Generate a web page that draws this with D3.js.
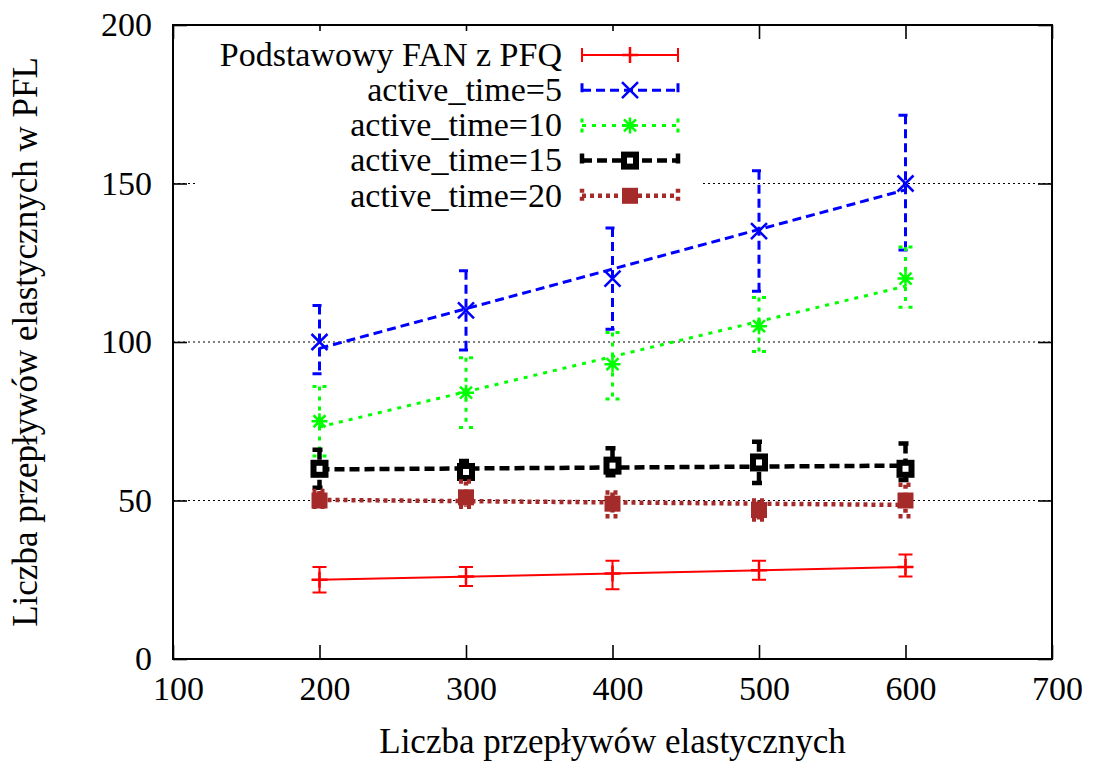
<!DOCTYPE html>
<html>
<head>
<meta charset="utf-8">
<script src="https://cdn.jsdelivr.net/npm/d3@7"></script>
<style>
  body { margin: 0; background: #fff; }
  svg { display: block; }
  text { font-family: "Liberation Serif", "Times New Roman", serif; fill: #000; }
</style>
</head>
<body>
<div id="chart"></div>
<script>
// data
const xValues = [200, 300, 400, 500, 600];
const xTicks = [100, 200, 300, 400, 500, 600, 700];
const yTicks = [0, 50, 100, 150, 200];
const gridValues = [50, 100, 150];

const seriesNames = ["Podstawowy FAN z PFQ", "active_time=5", "active_time=10", "active_time=15", "active_time=20"];

const baseMean = [25, 26, 27, 28, 29];
const baseLow  = [21, 23, 22, 25, 26];
const baseHigh = [29, 29, 31, 31, 33];

const at5Mean = [100, 110, 120, 135, 150];
const at5Low  = [90, 97.5, 104, 116, 129];
const at5High = [111.5, 122.5, 136, 154, 171.5];

const at10Mean = [75, 84, 93, 105, 120];
const at10Low  = [64, 73, 82, 97, 111];
const at10High = [86, 95, 103, 114, 130];

const at15Mean = [60, 59, 61, 62, 60];
const at15Low  = [54, 57, 58, 55.5, 56.5];
const at15High = [66, 62.5, 66.5, 68.5, 68];

const at20Mean = [50, 51, 49, 47, 50];
const at20Low  = [48, 48, 45, 44, 45];
const at20High = [53, 56, 52.5, 50, 55];

const width = 1094, height = 765;
const margin = {top: 25, right: 42, bottom: 106, left: 173};
const serif = '"Liberation Serif", "Times New Roman", serif';

const x = d3.scaleLinear().domain([100, 700]).range([margin.left, width - margin.right]);
const y = d3.scaleLinear().domain([0, 200]).range([height - margin.bottom, margin.top]);

const styles = [
  {color: "#ff0000", width: 2,   dash: null,   marker: "plus"},
  {color: "#0000ff", width: 3,   dash: "9,5",  marker: "cross"},
  {color: "#00ff00", width: 3,   dash: "4,6",  marker: "star"},
  {color: "#000000", width: 4.5, dash: "10,5", marker: "box"},
  {color: "#a52a2a", width: 4.5, dash: "4,4",  marker: "fbox"}
];

const series = [
  [baseMean, baseLow, baseHigh],
  [at5Mean, at5Low, at5High],
  [at10Mean, at10Low, at10High],
  [at15Mean, at15Low, at15High],
  [at20Mean, at20Low, at20High]
].map((s, i) => ({
  name: seriesNames[i],
  style: styles[i],
  points: xValues.map((xv, j) => ({x: xv, y: s[0][j], lo: s[1][j], hi: s[2][j]}))
}));

const svg = d3.select("#chart").append("svg")
  .attr("width", width)
  .attr("height", height);

// grid
svg.append("g")
  .selectAll("line")
  .data(gridValues)
  .join("line")
    .attr("x1", x(100)).attr("x2", x(700))
    .attr("y1", d => y(d)).attr("y2", d => y(d))
    .attr("stroke", "#000")
    .attr("stroke-width", 1.2)
    .attr("stroke-dasharray", "2,3");

// axes, ticks pointing inward
const fontSize = 34;
const titleSize = 35;
const bottomAxis = svg.append("g")
  .attr("transform", `translate(0,${y(0)})`)
  .call(d3.axisBottom(x).tickValues(xTicks).tickSizeInner(-14).tickSizeOuter(0).tickPadding(17));
bottomAxis.selectAll("text").attr("dx", 5);

svg.append("g")
  .attr("transform", `translate(0,${y(200)})`)
  .call(d3.axisTop(x).tickValues(xTicks).tickSizeInner(-14).tickSizeOuter(0).tickFormat(""));

svg.append("g")
  .attr("transform", `translate(${x(100)},0)`)
  .call(d3.axisLeft(y).tickValues(yTicks).tickSizeInner(-14).tickSizeOuter(0).tickPadding(21));

svg.append("g")
  .attr("transform", `translate(${x(700)},0)`)
  .call(d3.axisRight(y).tickValues(yTicks).tickSizeInner(-14).tickSizeOuter(0).tickFormat(""));

svg.selectAll(".domain").remove();
svg.selectAll(".tick line").attr("stroke", "#000").attr("stroke-width", 1.6);
svg.selectAll(".tick text")
  .style("font-family", serif)
  .style("font-size", fontSize + "px")
  .attr("fill", "#000");

// frame
svg.append("rect")
  .attr("x", x(100)).attr("y", y(200))
  .attr("width", x(700) - x(100)).attr("height", y(0) - y(200))
  .attr("fill", "none")
  .attr("stroke", "#000")
  .attr("stroke-width", 2);

// axis titles
svg.append("text")
  .attr("x", (x(100) + x(700)) / 2)
  .attr("y", 753)
  .attr("text-anchor", "middle")
  .style("font-family", serif)
  .style("font-size", titleSize + "px")
  .text("Liczba przepływów elastycznych");

svg.append("text")
  .attr("transform", `translate(37,${(y(0) + y(200)) / 2}) rotate(-90)`)
  .attr("text-anchor", "middle")
  .style("font-family", serif)
  .style("font-size", titleSize + "px")
  .text("Liczba przepływów elastycznych w PFL");

// marker path generator
function markerPath(type, cx, cy) {
  const r = 8;
  const p = d3.path();
  if (type === "plus" || type === "star") {
    p.moveTo(cx - r, cy); p.lineTo(cx + r, cy);
    p.moveTo(cx, cy - r); p.lineTo(cx, cy + r);
  }
  if (type === "cross" || type === "star") {
    const q = type === "star" ? r * 0.75 : r;
    p.moveTo(cx - q, cy - q); p.lineTo(cx + q, cy + q);
    p.moveTo(cx - q, cy + q); p.lineTo(cx + q, cy - q);
  }
  return p.toString();
}

function drawMarker(g, type, cx, cy, st) {
  if (type === "box") {
    g.append("rect")
      .attr("x", cx - 6).attr("y", cy - 6)
      .attr("width", 12).attr("height", 12)
      .attr("fill", "#fff")
      .attr("stroke", st.color)
      .attr("stroke-width", 6);
  } else if (type === "fbox") {
    g.append("rect")
      .attr("x", cx - 8).attr("y", cy - 8)
      .attr("width", 16).attr("height", 16)
      .attr("fill", st.color);
  } else {
    g.append("path")
      .attr("d", markerPath(type, cx, cy))
      .attr("fill", "none")
      .attr("stroke", st.color)
      .attr("stroke-width", 2.5);
  }
}

const cap = 7;
const fitLine = d3.line().x(d => x(d.x)).y(d => y(d.y));

series.forEach(s => {
  const st = s.style;
  const g = svg.append("g");

  // error bars
  g.selectAll("path.err")
    .data(s.points)
    .join("path")
      .attr("class", "err")
      .attr("d", d => {
        const p = d3.path();
        const px = x(d.x);
        p.moveTo(px - cap, y(d.hi)); p.lineTo(px + cap, y(d.hi));
        p.moveTo(px, y(d.hi)); p.lineTo(px, y(d.lo));
        p.moveTo(px - cap, y(d.lo)); p.lineTo(px + cap, y(d.lo));
        return p.toString();
      })
      .attr("fill", "none")
      .attr("stroke", st.color)
      .attr("stroke-width", st.width)
      .attr("stroke-dasharray", st.dash);

  // least squares line through the points
  const mx = d3.mean(s.points, d => d.x);
  const my = d3.mean(s.points, d => d.y);
  const slope = d3.sum(s.points, d => (d.x - mx) * (d.y - my)) / d3.sum(s.points, d => (d.x - mx) ** 2);
  const ends = [200, 600].map(v => ({x: v, y: my + slope * (v - mx)}));
  g.append("path")
    .attr("d", fitLine(ends))
    .attr("fill", "none")
    .attr("stroke", st.color)
    .attr("stroke-width", st.width)
    .attr("stroke-dasharray", st.dash);

  s.points.forEach(d => drawMarker(g, st.marker, x(d.x), y(d.y), st));
});

// legend
const legend = svg.append("g");
legend.append("rect")
  .attr("x", 196).attr("y", 31)
  .attr("width", 507).attr("height", 176)
  .attr("fill", "#fff");

const rowY = i => 55 + i * 35.2;
const sx0 = 582, sx1 = 678, sxm = 630;

series.forEach((s, i) => {
  const st = s.style;
  const cy = rowY(i);
  legend.append("text")
    .attr("x", 562)
    .attr("y", cy)
    .attr("dy", "0.32em")
    .attr("text-anchor", "end")
    .style("font-family", serif)
    .style("font-size", fontSize + "px")
    .text(s.name);

  const p = d3.path();
  p.moveTo(sx0, cy); p.lineTo(sx1, cy);
  p.moveTo(sx0, cy - 7); p.lineTo(sx0, cy + 7);
  p.moveTo(sx1, cy - 7); p.lineTo(sx1, cy + 7);
  legend.append("path")
    .attr("d", p.toString())
    .attr("fill", "none")
    .attr("stroke", st.color)
    .attr("stroke-width", st.width)
    .attr("stroke-dasharray", st.dash);

  drawMarker(legend, st.marker, sxm, cy, st);
});
</script>
</body>
</html>
